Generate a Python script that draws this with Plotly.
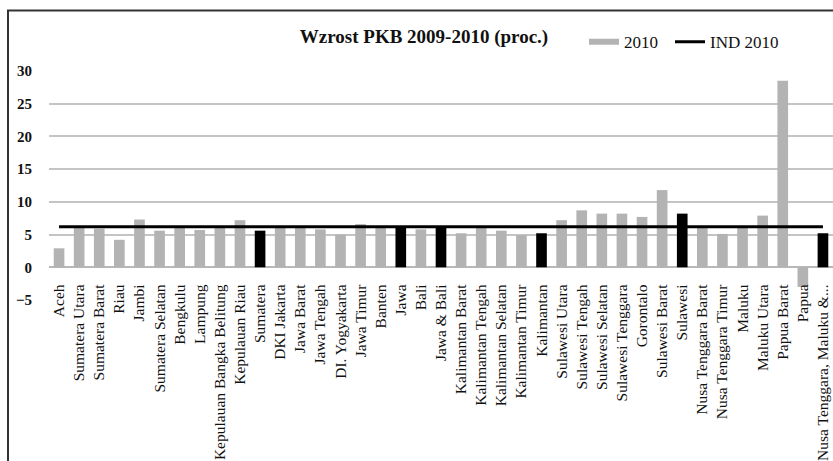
import plotly.graph_objects as go

# GDP growth 2010 by province / region (percent)
categories = [
    "Aceh", "Sumatera Utara", "Sumatera Barat", "Riau", "Jambi",
    "Sumatera Selatan", "Bengkulu", "Lampung", "Kepulauan Bangka Belitung",
    "Kepulauan Riau", "Sumatera", "DKI Jakarta", "Jawa Barat", "Jawa Tengah",
    "DI. Yogyakarta", "Jawa Timur", "Banten", "Jawa", "Bali", "Jawa & Bali",
    "Kalimantan Barat", "Kalimantan Tengah", "Kalimantan Selatan",
    "Kalimantan Timur", "Kalimantan", "Sulawesi Utara", "Sulawesi Tengah",
    "Sulawesi Selatan", "Sulawesi Tenggara", "Gorontalo", "Sulawesi Barat",
    "Sulawesi", "Nusa Tenggara Barat", "Nusa Tenggara Timur", "Maluku",
    "Maluku Utara", "Papua Barat", "Papua", "Nusa Tenggara, Maluku &...",
]
growth_2010 = [
    2.9, 6.3, 5.9, 4.2, 7.3,
    5.6, 6.1, 5.7, 6.0,
    7.2, 5.6, 6.1, 6.1, 5.8,
    5.0, 6.6, 6.1, 6.2, 5.8, 6.2,
    5.2, 6.1, 5.6,
    4.9, 5.2, 7.2, 8.7,
    8.2, 8.2, 7.7, 11.8,
    8.2, 6.2, 5.1, 6.1,
    7.9, 28.5, -3.0, 5.2,
]
# island-group aggregates, drawn in black
aggregates = ["Sumatera", "Jawa", "Jawa & Bali", "Kalimantan", "Sulawesi",
              "Nusa Tenggara, Maluku &..."]
ind_2010 = 6.2
y_ticks = [-5, 0, 5, 10, 15, 20, 25, 30]

GREY = "#b3b3b3"
FONT = "Liberation Serif"
TEXT = "#111111"

bar_colors = ["#000000" if c in aggregates else GREY for c in categories]

fig = go.Figure()
fig.add_trace(go.Bar(
    x=categories, y=growth_2010, marker=dict(color=bar_colors, line=dict(width=0)),
    name="2010", showlegend=False,
))
# legend key for the bars (wide grey stroke)
fig.add_trace(go.Scatter(
    x=[None], y=[None], mode="lines", name="2010",
    line=dict(color=GREY, width=6), legend="legend",
))
fig.add_trace(go.Scatter(
    x=categories, y=[ind_2010] * len(categories), mode="lines",
    name="IND 2010", line=dict(color="#000000", width=3), legend="legend2",
))

y_min, y_max = y_ticks[0], y_ticks[-1]
W, H = 833, 461
ml, mr, mt, mb = 49, 0, 71, 159
plot_h = H - mt - mb
plot_w = W - ml - mr

def px_x(px):
    return (px - ml) / plot_w

def px_y(py):
    return (H - mb - py) / plot_h

legend_style = dict(
    orientation="h", xref="paper", yref="paper",
    xanchor="left", y=px_y(42), yanchor="middle",
    font=dict(family=FONT, size=17, color=TEXT),
    bgcolor="rgba(0,0,0,0)", itemwidth=30,
)

fig.update_layout(
    width=W, height=H,
    margin=dict(l=ml, r=mr, t=mt, b=mb, pad=0),
    paper_bgcolor="white", plot_bgcolor="white",
    font=dict(family=FONT, color=TEXT),
    bargap=0.47,
    title=dict(
        text="<b>Wzrost PKB 2009-2010 (proc.)</b>",
        font=dict(family=FONT, size=19, color=TEXT),
        xref="paper", x=px_x(424), xanchor="center",
        yref="container", y=1 - 36 / H, yanchor="middle",
    ),
    legend=dict(legend_style, x=px_x(584)),
    legend2=dict(legend_style, x=px_x(670)),
    xaxis=dict(
        type="category", anchor="free",
        position=(0 - y_min) / (y_max - y_min),
        tickangle=-90, tickfont=dict(family=FONT, size=15.5, color=TEXT),
        ticks="outside", ticklen=10, tickcolor="rgba(0,0,0,0)",
        showgrid=False, showline=False, zeroline=False,
    ),
    yaxis=dict(
        range=[y_min, y_max], tickvals=y_ticks,
        tickfont=dict(family=FONT, size=15, color=TEXT, weight="bold"),
        ticks="outside", ticklen=13, tickcolor="rgba(0,0,0,0)",
        showgrid=True, gridcolor="#c4c4c4", gridwidth=1.5,
        zeroline=True, zerolinecolor="#b8b8b8", zerolinewidth=1.5,
        showline=False,
    ),
    shapes=[dict(
        type="rect", xref="paper", yref="paper",
        x0=px_x(8), x1=px_x(W + 20), y0=px_y(H + 20), y1=px_y(10),
        line=dict(color="#333333", width=2), fillcolor="rgba(0,0,0,0)",
        layer="below",
    )],
)

fig.write_html("out.html")
